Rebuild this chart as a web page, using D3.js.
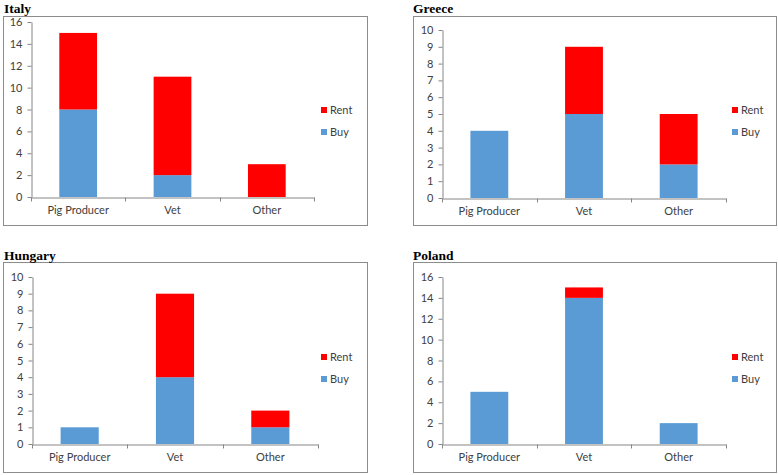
<!DOCTYPE html>
<html>
<head>
<meta charset="utf-8">
<script src="https://cdn.jsdelivr.net/npm/d3@7"></script>
<style>
  body { margin: 0; background: #fff; }
  svg { display: block; }
</style>
</head>
<body>
<div id="chart"></div>
<script>
// data
const categories = ["Pig Producer", "Vet", "Other"];
const countries = ["Italy", "Greece", "Hungary", "Poland"];
const buyItaly = [8, 2, 0];
const rentItaly = [7, 9, 3];
const buyGreece = [4, 5, 2];
const rentGreece = [0, 4, 3];
const buyHungary = [1, 4, 1];
const rentHungary = [0, 5, 1];
const buyPoland = [5, 14, 2];
const rentPoland = [0, 1, 0];
const ticks16 = [0, 2, 4, 6, 8, 10, 12, 14, 16];
const ticks10 = [0, 1, 2, 3, 4, 5, 6, 7, 8, 9, 10];

const blue = "#5b9bd5", red = "#ff0000";
const labelFont = "Lato";

// layout of each panel (frame, plot area, legend)
const panels = [
  {name: countries[0], buy: buyItaly, rent: rentItaly, ticks: ticks16,
   frame: [3, 16, 367, 225], plot: [31, 22, 314, 197], legend: [324, 110], titleX: 4, titleY: 12.5},
  {name: countries[1], buy: buyGreece, rent: rentGreece, ticks: ticks10,
   frame: [413, 16, 776, 225], plot: [442, 30, 726, 198], legend: [735, 110], titleX: 413, titleY: 12.5},
  {name: countries[2], buy: buyHungary, rent: rentHungary, ticks: ticks10,
   frame: [3, 262, 367, 472], plot: [32, 277, 318, 444], legend: [324, 357], titleX: 4, titleY: 259.5},
  {name: countries[3], buy: buyPoland, rent: rentPoland, ticks: ticks16,
   frame: [413, 262, 776, 472], plot: [442, 277, 726, 444], legend: [735, 357], titleX: 413, titleY: 259.5}
];

const svg = d3.select("#chart").append("svg")
  .attr("width", 778)
  .attr("height", 475);

panels.forEach(p => {
  const g = svg.append("g");
  const [fx0, fy0, fx1, fy1] = p.frame;
  const [px0, py0, px1, py1] = p.plot;

  // frame
  g.append("rect")
    .attr("x", fx0 + 0.5).attr("y", fy0 + 0.5)
    .attr("width", fx1 - fx0).attr("height", fy1 - fy0)
    .attr("fill", "none").attr("stroke", "#8c8c8c");

  // title
  g.append("text")
    .attr("x", p.titleX)
    .attr("y", p.titleY)
    .attr("font-family", "Liberation Serif")
    .attr("font-weight", "bold")
    .attr("font-size", 13.5)
    .attr("fill", "#000")
    .text(p.name);

  const x = d3.scaleBand()
    .domain(categories)
    .range([px0, px1])
    .paddingInner(0.6)
    .paddingOuter(0.3);

  const y = d3.scaleLinear()
    .domain([0, d3.max(p.ticks)])
    .range([py1, py0]);

  const rows = categories.map((c, i) => ({cat: c, Buy: p.buy[i], Rent: p.rent[i]}));
  const stack = d3.stack().keys(["Buy", "Rent"])(rows);
  const color = d3.scaleOrdinal().domain(["Buy", "Rent"]).range([blue, red]);

  // bars
  g.selectAll(".layer")
    .data(stack)
    .join("g")
      .attr("fill", d => color(d.key))
    .selectAll("rect")
    .data(d => d)
    .join("rect")
      .attr("x", d => x(d.data.cat))
      .attr("y", d => y(d[1]))
      .attr("width", x.bandwidth())
      .attr("height", d => y(d[0]) - y(d[1]));

  // Y axis
  const yAxis = g.append("g")
    .attr("transform", `translate(${px0 + 0.5},0)`)
    .call(d3.axisLeft(y).tickValues(p.ticks).tickSize(4).tickSizeOuter(0).tickPadding(5));
  yAxis.select(".domain").attr("stroke", "#868686");
  yAxis.selectAll(".tick line").attr("stroke", "#868686");
  yAxis.selectAll("text")
    .attr("font-family", labelFont)
    .attr("font-size", 11)
    .attr("fill", "#404040");

  // X axis
  const xAxis = g.append("g")
    .attr("transform", `translate(0,${py1 + 0.5})`)
    .call(d3.axisBottom(x).tickSize(0).tickSizeOuter(0).tickPadding(9));
  xAxis.select(".domain").attr("stroke", "#868686");
  xAxis.selectAll("text")
    .attr("font-family", labelFont)
    .attr("font-size", 11)
    .attr("fill", "#404040");

  // category boundary ticks
  const xb = d3.scaleLinear().domain([0, categories.length]).range([px0, px1]);
  g.append("g")
    .selectAll("line")
    .data(d3.range(categories.length + 1))
    .join("line")
      .attr("x1", d => Math.round(xb(d)) + 0.5)
      .attr("x2", d => Math.round(xb(d)) + 0.5)
      .attr("y1", py1 + 0.5)
      .attr("y2", py1 + 4.5)
      .attr("stroke", "#868686");

  // legend
  const [lx, ly] = p.legend;
  const leg = g.append("g")
    .selectAll("g")
    .data(["Rent", "Buy"])
    .join("g")
      .attr("transform", (d, i) => `translate(${lx},${ly + i * 22})`);
  leg.append("rect")
    .attr("x", -3).attr("y", -3)
    .attr("width", 6).attr("height", 6)
    .attr("fill", d => color(d));
  leg.append("text")
    .attr("x", 6)
    .attr("dy", "0.35em")
    .attr("font-family", labelFont)
    .attr("font-size", 11)
    .attr("fill", "#404040")
    .text(d => d);
});
</script>
</body>
</html>
